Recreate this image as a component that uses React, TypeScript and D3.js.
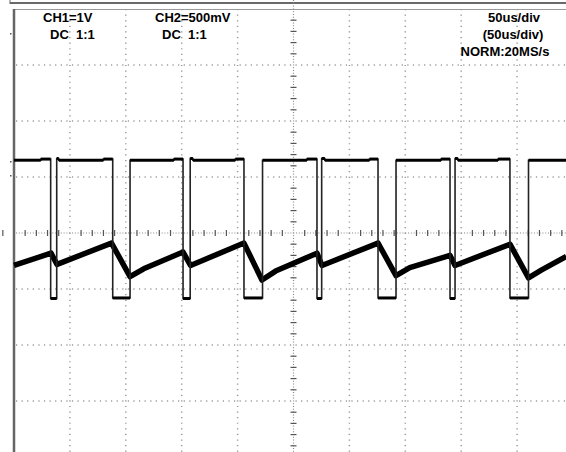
import React from 'react';
import * as d3 from 'd3';

// time in microseconds (50us/div), CH1 in volts (1V/div), CH2 in volts (500mV/div)
const ch1Times = [0, 24, 24, 32.8, 32.8, 38.2, 38.2, 40, 40, 80, 80, 88.3, 88.3, 103.8, 103.8, 143, 143, 151.2, 151.2, 157.6, 157.6, 160, 160, 198, 198, 205.7, 205.7, 222.3, 222.3, 262, 262, 271, 271, 275.2, 275.2, 278, 278, 318, 318, 325.6, 325.6, 341.7, 341.7, 382, 382, 390, 390, 394.5, 394.5, 397, 397, 433, 433, 443.6, 443.6, 460.2, 460.2, 494];
const ch1Volts = [1.3, 1.3, 1.32, 1.32, -1.17, -1.17, 1.33, 1.33, 1.3, 1.3, 1.32, 1.32, -1.16, -1.16, 1.3, 1.3, 1.32, 1.32, -1.17, -1.17, 1.33, 1.33, 1.3, 1.3, 1.32, 1.32, -1.16, -1.16, 1.3, 1.3, 1.32, 1.32, -1.17, -1.17, 1.33, 1.33, 1.3, 1.3, 1.32, 1.32, -1.16, -1.16, 1.3, 1.3, 1.32, 1.32, -1.17, -1.17, 1.33, 1.33, 1.3, 1.3, 1.32, 1.32, -1.16, -1.16, 1.3, 1.3];

const ch2Times = [0, 33.1, 38.5, 87.2, 103.8, 116, 151.2, 157.9, 205.7, 221.8, 234, 271, 275.5, 325.6, 341.7, 354, 390, 394.5, 443.6, 460.2, 472, 494];
const ch2Volts = [-0.29, -0.18, -0.28, -0.09, -0.39, -0.32, -0.17, -0.29, -0.09, -0.42, -0.34, -0.18, -0.29, -0.09, -0.38, -0.31, -0.2, -0.29, -0.1, -0.4, -0.33, -0.21];

const ch1VoltsPerDiv = 1;
const ch2VoltsPerDiv = 0.5;
const timeDivs = d3.range(0, 11);
const voltDivs = d3.range(-4, 5);

const headerLeft = [
  { text: 'CH1=1V', x: 43, y: 22 },
  { text: 'DC  1:1', x: 50, y: 39 },
  { text: 'CH2=500mV', x: 155, y: 22 },
  { text: 'DC  1:1', x: 162, y: 39 },
];
const headerRight = [
  { text: '50us/div', x: 514, y: 22 },
  { text: '(50us/div)', x: 513, y: 39 },
  { text: 'NORM:20MS/s', x: 505, y: 56 },
];

const W = 566;
const H = 452;
const left = 14;
const divPx = 55.9;
const centerY = 233;

export default function App() {
  const x = d3.scaleLinear().domain([0, 500]).range([left, left + 10 * divPx]);
  const yDiv = d3.scaleLinear().domain([-4, 4]).range([centerY + 4 * 56, centerY - 4 * 56]);
  const y1 = (v: number) => yDiv(v / ch1VoltsPerDiv);
  const y2 = (v: number) => yDiv(v / ch2VoltsPerDiv);

  const line1 = d3.line<number>().x((d, i) => x(ch1Times[i])).y((d) => y1(d));
  const line2 = d3.line<number>().x((d, i) => x(ch2Times[i])).y((d) => y2(d));

  const midX = x(250);
  const minorTicks = d3.range(-40, 41);

  return (
    <svg width={W} height={H} style={{ position: 'absolute', left: 0, top: 0, background: '#fff' }}>
      {/* frame */}
      <line x1={10} x2={W} y1={3} y2={3} stroke="#6a6a6a" strokeWidth={2} />
      <line x1={10} x2={10} y1={0} y2={4} stroke="#6a6a6a" strokeWidth={1} />
      <line x1={14} x2={W} y1={9.5} y2={9.5} stroke="#9a9a9a" strokeWidth={1} />
      <line x1={14} x2={14} y1={9} y2={H} stroke="#666" strokeWidth={2.5} />

      {/* grid */}
      <g stroke="#9a9a9a" strokeWidth={1.5} strokeDasharray="1.2,4.39">
        {timeDivs.filter((d) => d > 0 && d !== 5).map((d) => (
          <line key={'v' + d} x1={x(d * 50)} x2={x(d * 50)} y1={yDiv(4)} y2={H} />
        ))}
        {voltDivs.filter((d) => d !== 0 && d !== 4).map((d) => (
          <line key={'h' + d} x1={left + 2} x2={W} y1={yDiv(d)} y2={yDiv(d)} />
        ))}
      </g>
      <g stroke="#888" strokeWidth={1.2} strokeDasharray="1,1.8">
        <line x1={midX} x2={midX} y1={0} y2={H} />
        <line x1={left + 2} x2={W} y1={centerY} y2={centerY} />
      </g>
      <g stroke="#555" strokeWidth={1.2}>
        {minorTicks.filter((k) => k % 5 !== 0).map((k) => (
          <line key={'tv' + k} x1={midX - 3} x2={midX + 3} y1={centerY + k * 11.2} y2={centerY + k * 11.2} />
        ))}
        {minorTicks.filter((k) => k % 5 !== 0).map((k) => (
          <line key={'th' + k} x1={midX + k * divPx / 5} x2={midX + k * divPx / 5} y1={centerY - 3} y2={centerY + 3} />
        ))}
      </g>

      {/* markers left of frame */}
      <g fill="#555">
        <rect x={10} y={33} width={1.5} height={1.5} />
        <rect x={10} y={161} width={1.5} height={1.5} />
        <rect x={10} y={175} width={1.5} height={1.5} />
      </g>

      {/* traces */}
      <path d={line2(ch2Volts) || ''} fill="none" stroke="#000" strokeWidth={5.5} strokeLinejoin="round" />
      <path d={line1(ch1Volts) || ''} fill="none" stroke="#222" strokeWidth={1.6} />
      <g stroke="#000" strokeWidth={3}>
        {ch1Times.slice(0, -1).map((t, i) =>
          ch1Volts[i] === ch1Volts[i + 1] && ch1Times[i + 1] > t ? (
            <line key={'s' + i} x1={x(t)} x2={x(ch1Times[i + 1])} y1={y1(ch1Volts[i])} y2={y1(ch1Volts[i])} />
          ) : null
        )}
      </g>

      {/* labels */}
      <g fontFamily="'Liberation Sans', Arial, sans-serif" fontWeight="bold" fontSize={13} fill="#000">
        {headerLeft.map((h) => (
          <text key={h.text + h.x} x={h.x} y={h.y} style={{ whiteSpace: 'pre' }}>{h.text}</text>
        ))}
        {headerRight.map((h) => (
          <text key={h.text} x={h.x} y={h.y} textAnchor="middle">{h.text}</text>
        ))}
      </g>
    </svg>
  );
}
